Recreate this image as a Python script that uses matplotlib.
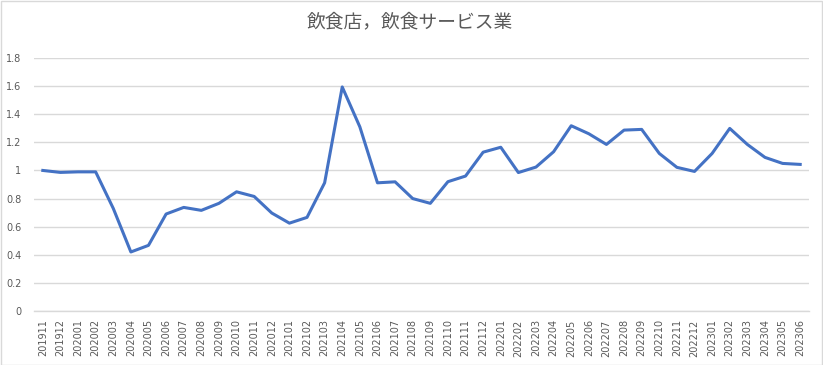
import matplotlib
matplotlib.use("Agg")
import matplotlib.pyplot as plt
from matplotlib.patches import Rectangle

plt.rcParams['font.family'] = ['Noto Sans CJK JP', 'DejaVu Sans']

title = "飲食店，飲食サービス業"
months = ["201911", "201912",
          "202001", "202002", "202003", "202004", "202005", "202006",
          "202007", "202008", "202009", "202010", "202011", "202012",
          "202101", "202102", "202103", "202104", "202105", "202106",
          "202107", "202108", "202109", "202110", "202111", "202112",
          "202201", "202202", "202203", "202204", "202205", "202206",
          "202207", "202208", "202209", "202210", "202211", "202212",
          "202301", "202302", "202303", "202304", "202305", "202306"]
values = [1.0, 0.986,
          0.99, 0.99, 0.73, 0.42, 0.467, 0.69,
          0.737, 0.716, 0.766, 0.848, 0.815, 0.697,
          0.625, 0.666, 0.912, 1.594, 1.31, 0.912,
          0.919, 0.80, 0.766, 0.92, 0.96, 1.13,
          1.165, 0.985, 1.024, 1.133, 1.318, 1.261,
          1.185, 1.287, 1.292, 1.121, 1.022, 0.993,
          1.121, 1.299, 1.185, 1.093, 1.050, 1.043]
yticks = [0, 0.2, 0.4, 0.6, 0.8, 1, 1.2, 1.4, 1.6, 1.8]
ytick_labels = ["0", "0.2", "0.4", "0.6", "0.8", "1", "1.2", "1.4", "1.6", "1.8"]

W, H = 823, 365
fig = plt.figure(figsize=(W / 100, H / 100), dpi=100)
ax = fig.add_axes([34 / W, (H - 311) / H, 775 / W, 253 / H])

x = list(range(len(months)))
ax.plot(x, values, color="#4472C4", linewidth=2.2, solid_joinstyle="round", zorder=3)

ax.set_xlim(-0.5, len(months) - 0.5)
ax.set_ylim(0, 1.8)
ax.set_yticks(yticks)
ax.set_yticklabels(ytick_labels)
ax.set_xticks(x)
ax.set_xticklabels(months, rotation=90)
ax.tick_params(axis="both", length=0, colors="#595959", labelsize=7)
ax.tick_params(axis="y", pad=9)
ax.tick_params(axis="x", pad=6)
for lab in ax.get_xticklabels() + ax.get_yticklabels():
    lab.set_family(['DejaVu Sans'])
ax.grid(axis="y", color="#D9D9D9", linewidth=1)
ax.set_axisbelow(True)
for s in ["top", "right", "left"]:
    ax.spines[s].set_visible(False)
ax.spines["bottom"].set_color("#D9D9D9")
ax.spines["bottom"].set_linewidth(1)

fig.text(410 / W, 1 - 22 / H, title, ha="center", va="center",
         fontsize=13.5, color="#595959")

fig.patches.append(Rectangle((0.5 / W, 0.5 / H), 1 - 1.5 / W, 1 - 1.5 / H,
                             transform=fig.transFigure, fill=False,
                             edgecolor="#D9D9D9", linewidth=1))

fig.savefig("out.png", dpi=100)
